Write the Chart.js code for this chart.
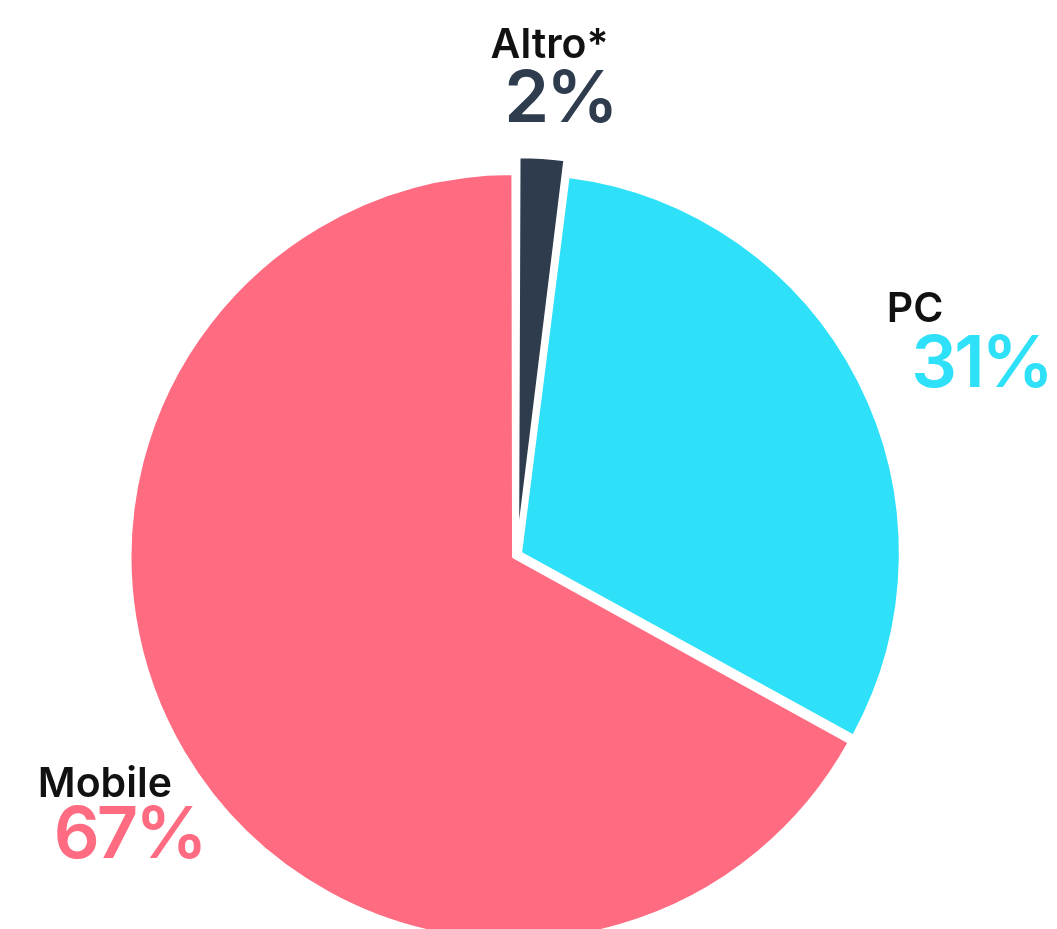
<!DOCTYPE html>
<html>
<head>
<meta charset="utf-8">
<script src="https://cdn.jsdelivr.net/npm/chart.js@4/dist/chart.umd.min.js"></script>
<style>
  html, body { margin: 0; padding: 0; background: #ffffff; overflow: hidden; }
  #wrap { width: 1057px; height: 929px; }
</style>
</head>
<body>
<div id="wrap"><canvas id="c" width="1057" height="929"></canvas></div>
<script>
const categories = ['Altro*', 'PC', 'Mobile'];
const shares = [2, 31, 67];
const shareLabels = ['2%', '31%', '67%'];

const sliceColors = ['#2E3C4E', '#2EE0F8', '#FF6B81'];
const sliceOffsets = [40, 16, 16];

// label layout relative to the pie centre, in units of the radius
const labelLayout = [
  { name: [0.086, -1.31], pct: [0.113, -1.141] },
  { name: [1.049, -0.614], pct: [1.223, -0.443] },
  { name: [-1.086, 0.638], pct: [-1.022, 0.798] }
];

const labelPlugin = {
  id: 'sliceLabels',
  afterDatasetsDraw(chart) {
    const ctx = chart.ctx;
    const meta = chart.getDatasetMeta(0);
    const arc0 = meta.data[0];
    const cx = arc0.x, cy = arc0.y, r = arc0.outerRadius;
    ctx.save();
    ctx.textAlign = 'center';
    ctx.textBaseline = 'alphabetic';
    categories.forEach((name, i) => {
      const lay = labelLayout[i];
      ctx.letterSpacing = '0px';
      ctx.font = '600 41px Inter, "Noto Sans", sans-serif';
      ctx.fillStyle = '#111111';
      ctx.fillText(name, cx + lay.name[0] * r, cy + lay.name[1] * r);
      ctx.letterSpacing = '-3px';
      ctx.font = '600 72px Inter, "Noto Sans", sans-serif';
      ctx.fillStyle = sliceColors[i];
      ctx.fillText(shareLabels[i], cx + lay.pct[0] * r, cy + lay.pct[1] * r);
    });
    ctx.restore();
  }
};

new Chart(document.getElementById('c'), {
  type: 'pie',
  data: {
    labels: categories,
    datasets: [{
      data: shares,
      backgroundColor: sliceColors,
      borderColor: '#ffffff',
      borderWidth: 3,
      offset: sliceOffsets,
      clip: false
    }]
  },
  options: {
    responsive: false,
    animation: false,
    events: [],
    radius: 379.5,
    layout: { padding: { top: 181, right: 23, left: 0, bottom: 0 } },
    plugins: {
      legend: { display: false },
      tooltip: { enabled: false }
    }
  },
  plugins: [labelPlugin]
});
</script>
</body>
</html>
